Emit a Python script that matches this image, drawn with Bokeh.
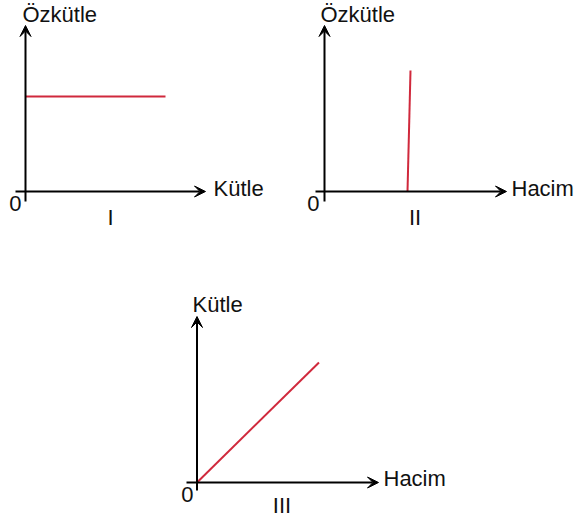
from bokeh.plotting import figure
from bokeh.models import Range1d, Arrow, VeeHead, Label, Spacer
from bokeh.layouts import column, row
from bokeh.embed import file_html
from bokeh.resources import INLINE

# ---- data (arbitrary units) ----
# Graph I: density vs mass (constant)
g1_mass = [0, 14]
g1_density = [9.5, 9.5]
# Graph II: density vs volume (near-vertical line)
g2_volume = [8.3, 8.6]
g2_density = [0, 12.1]
# Graph III: mass vs volume (proportional)
g3_volume = [0, 12.2]
g3_mass = [0, 12.0]

panel_titles = ["I", "II", "III"]
y_labels = ["Özkütle", "Özkütle", "Kütle"]
x_labels = ["Kütle", "Hacim", "Hacim"]

RED = "#d0293c"
FONT = "Liberation Sans"
FS = "22px"
DY = 0.8  # baseline correction for label rendering


def make_panel(w, h, xr, yr, xs, ys, x_arrow, y_arrow, ylab, ylab_pos, xlab, xlab_pos,
               zero_pos, title, title_pos):
    p = figure(width=w, height=h, x_range=Range1d(*xr), y_range=Range1d(*yr),
               x_axis_type=None, y_axis_type=None, toolbar_location=None,
               output_backend="svg", min_border=0, outline_line_color=None,
               background_fill_color="white", border_fill_color="white")
    p.grid.visible = False
    p.add_layout(Arrow(end=VeeHead(size=11, fill_color="black", line_color="black"),
                       x_start=x_arrow[0], y_start=0, x_end=x_arrow[1], y_end=0,
                       line_color="black", line_width=2))
    p.add_layout(Arrow(end=VeeHead(size=11, fill_color="black", line_color="black"),
                       x_start=0, y_start=y_arrow[0], x_end=0, y_end=y_arrow[1],
                       line_color="black", line_width=2))
    p.line(xs, ys, line_color=RED, line_width=2)
    for pos, txt, align in [(ylab_pos, ylab, "left"), (xlab_pos, xlab, "left"),
                            (zero_pos, "0", "right"), (title_pos, title, "center")]:
        p.add_layout(Label(x=pos[0], y=pos[1] + DY, text=txt, text_font=FONT,
                           text_font_size=FS, text_color="#111111", text_align=align,
                           text_baseline="alphabetic"))
    return p


p1 = make_panel(290, 248, (-2.5, 26.5), (-5.7, 19.1), g1_mass, g1_density,
                (-1.0, 18.0), (-1.0, 16.6),
                y_labels[0], (-0.3, 16.9), x_labels[0], (18.8, -0.5),
                (-0.4, -2.0), panel_titles[0], (8.5, -3.4))

p2 = make_panel(290, 248, (-3.4, 25.6), (-5.7, 19.1), g2_volume, g2_density,
                (-0.9, 18.2), (-1.0, 16.6),
                y_labels[1], (-0.4, 16.9), x_labels[1], (18.7, -0.5),
                (-0.5, -2.0), panel_titles[1], (9.05, -3.4))

p3 = make_panel(300, 272, (-3.65, 26.35), (-3.8, 23.4), g3_volume, g3_mass,
                (-1.05, 18.15), (-0.8, 16.6),
                y_labels[2], (-0.45, 17.0), x_labels[2], (18.65, -0.4),
                (-0.35, -2.0), panel_titles[2], (8.5, -3.1))

layout = column(row(p1, p2), row(Spacer(width=160, height=272), p3))

open("out.html", "w").write(file_html(layout, INLINE))
